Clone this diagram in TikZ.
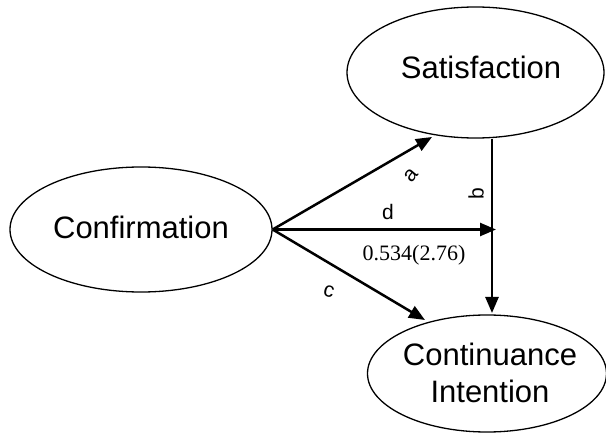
\documentclass[tikz,border=0pt]{standalone}
\usepackage{fontspec}
\newfontfamily\arial{Liberation Sans}
\newfontfamily\serifnum{Liberation Serif}
\usetikzlibrary{shapes.geometric,arrows.meta}
\tikzset{
  construct/.style={ellipse, draw, line width=1.3pt, inner sep=0pt},
  bigtext/.style={font=\arial\fontsize{31}{37}\selectfont, inner sep=0pt, align=center},
  path/.style={line width=2.5pt, -{Triangle[length=16pt,width=13pt]}},
  plabel/.style={font=\arial\fontsize{21}{23}\selectfont, inner sep=0pt},
  coef/.style={font=\serifnum\fontsize{22}{24}\selectfont, inner sep=0pt}
}
\begin{document}
\begin{tikzpicture}[x=1pt,y=-1pt]
  \useasboundingbox (0,0) rectangle (606,433);
  % constructs
  \node[construct, minimum width=262pt, minimum height=125pt] (conf) at (141,229.5) {};
  \node[construct, minimum width=257pt, minimum height=131pt] (sat) at (475.5,72.5) {};
  \node[construct, minimum width=239pt, minimum height=117pt] (ci) at (487,373.5) {};
  \node[bigtext] (conftext) at (141,227) {Confirmation};
  \node[bigtext] (sattext) at (481,67) {Satisfaction};
  \node[bigtext, anchor=base] (citext1) at (490,365) {Continuance};
  \node[bigtext, anchor=base] (citext2) at (490,402) {Intention};
  % arrow end points
  \coordinate (atip) at (432,137);
  \coordinate (ctip) at (425,320);
  \coordinate (btop) at (492,139);
  \coordinate (btip) at (492,313);
  \coordinate (dtip) at (496,229.5);
  % paths
  \draw[path] (conf.east) -- (atip);
  \draw[path] (conf.east) -- (dtip);
  \draw[path] (conf.east) -- (ctip);
  \draw[path] (btop) -- (btip);
  % path labels
  \node[plabel, rotate=50] (la) at (411,175) {a};
  \node[plabel, rotate=90] (lb) at (476,194) {b};
  \node[plabel] (ld) at (388,212) {d};
  \node[plabel, rotate=-15] (lc) at (329,292) {c};
  \node[coef] (lcoef) at (414,255.5) {0.534(2.76)};
\end{tikzpicture}
\end{document}
